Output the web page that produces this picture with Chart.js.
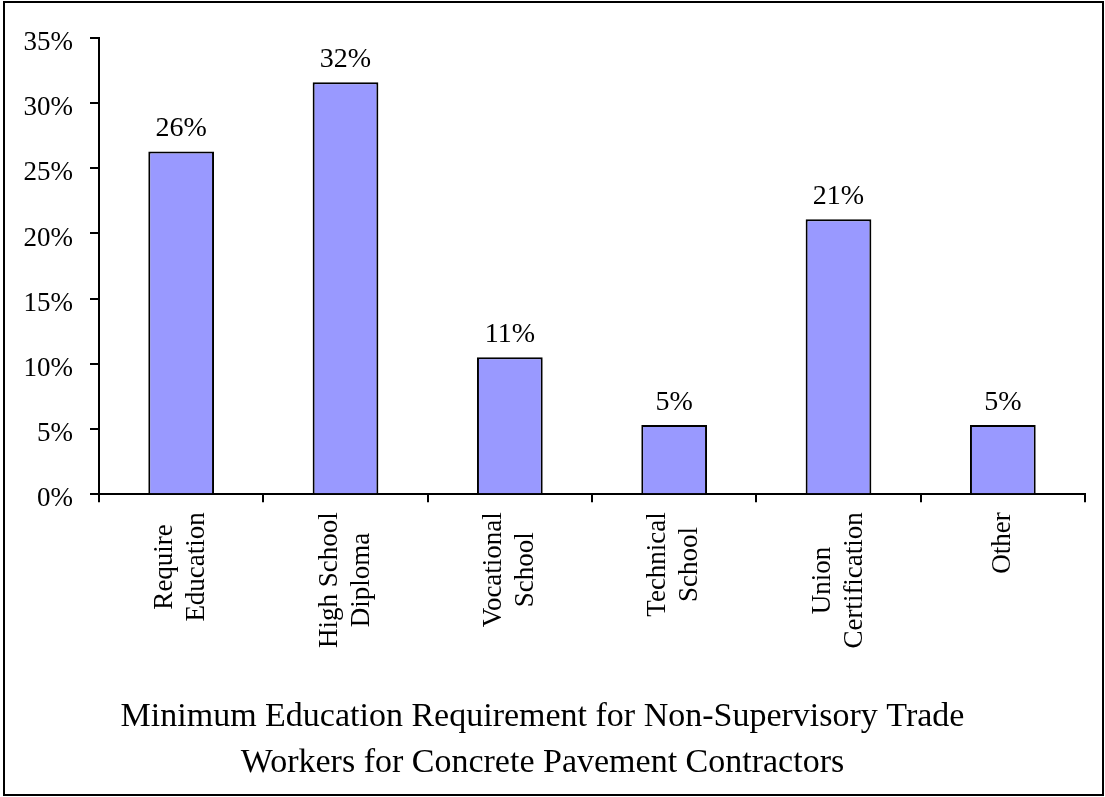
<!DOCTYPE html>
<html>
<head>
<meta charset="utf-8">
<script src="https://cdn.jsdelivr.net/npm/chart.js@4"></script>
<style>
  html, body { margin: 0; padding: 0; background: #ffffff; }
  #wrap { position: relative; width: 1105px; height: 797px; }
</style>
</head>
<body>
<div id="wrap"><canvas id="eduChart" width="1105" height="797"></canvas></div>
<script>
// data
var categories = [
    ['Require', 'Education'],
    ['High School', 'Diploma'],
    ['Vocational', 'School'],
    ['Technical', 'School'],
    ['Union', 'Certification'],
    ['Other']
];
var shares = [26.3, 31.6, 10.5, 5.3, 21.1, 5.3];
var yTicks = [0, 5, 10, 15, 20, 25, 30, 35];
var titleLines = [
    'Minimum Education Requirement for Non-Supervisory Trade',
    'Workers for Concrete Pavement Contractors'
];

var serif = "'Liberation Serif', 'Times New Roman', serif";

// frame around the whole picture
var framePlugin = {
    id: 'frame',
    afterDraw: function (chart) {
        var ctx = chart.ctx;
        ctx.save();
        ctx.strokeStyle = '#000';
        ctx.lineWidth = 2;
        ctx.strokeRect(4, 2, 1099, 793);
        ctx.restore();
    }
};

// value labels above the bars
var valueLabels = {
    id: 'valueLabels',
    afterDatasetsDraw: function (chart) {
        var ctx = chart.ctx;
        var meta = chart.getDatasetMeta(0);
        ctx.save();
        ctx.font = '28px ' + serif;
        ctx.fillStyle = '#000';
        ctx.textAlign = 'center';
        ctx.textBaseline = 'alphabetic';
        meta.data.forEach(function (bar, i) {
            ctx.fillText(Math.round(shares[i]) + '%', bar.x, bar.y - 15);
        });
        ctx.restore();
    }
};

// rotated category labels, lines centred on each other
var xLabels = {
    id: 'xLabels',
    afterDraw: function (chart) {
        var ctx = chart.ctx;
        var xs = chart.scales.x;
        ctx.save();
        ctx.font = '27px ' + serif;
        ctx.fillStyle = '#000';
        ctx.textAlign = 'center';
        ctx.textBaseline = 'middle';
        categories.forEach(function (lines, i) {
            var x = xs.getPixelForTick(i);
            var maxW = 0;
            lines.forEach(function (l) { maxW = Math.max(maxW, ctx.measureText(l).width); });
            var cy = xs.top + 18 + maxW / 2;
            ctx.save();
            ctx.translate(x, cy);
            ctx.rotate(-Math.PI / 2);
            lines.forEach(function (l, j) {
                ctx.fillText(l, 0, (j - (lines.length - 1) / 2) * 32);
            });
            ctx.restore();
        });
        ctx.restore();
    }
};

document.addEventListener('DOMContentLoaded', function () {
    new Chart(document.getElementById('eduChart'), {
        type: 'bar',
        data: {
            labels: categories,
            datasets: [{
                data: shares,
                backgroundColor: '#9999ff',
                borderColor: '#000000',
                borderWidth: 2,
                categoryPercentage: 1.0,
                barPercentage: 0.4
            }]
        },
        options: {
            responsive: false,
            animation: false,
            layout: { padding: { top: 38, right: 20, left: 0, bottom: 0 } },
            plugins: {
                legend: { display: false },
                tooltip: { enabled: false },
                title: {
                    display: true,
                    position: 'bottom',
                    text: titleLines,
                    color: '#000',
                    font: { family: serif, size: 34, weight: 'normal', lineHeight: 1.38 },
                    padding: { top: 0, bottom: 10 }
                }
            },
            scales: {
                x: {
                    grid: {
                        offset: true,
                        drawOnChartArea: false,
                        tickLength: 8,
                        color: '#000',
                        lineWidth: 2
                    },
                    border: { color: '#000', width: 2 },
                    ticks: { color: 'rgba(0,0,0,0)', font: { family: serif, size: 27 }, minRotation: 90, maxRotation: 90 },
                    afterFit: function (scale) { scale.height = 199; }
                },
                y: {
                    min: 0,
                    max: 35,
                    afterBuildTicks: function (scale) {
                        scale.ticks = yTicks.map(function (v) { return { value: v }; });
                    },
                    grid: {
                        drawOnChartArea: false,
                        tickLength: 9,
                        color: '#000',
                        lineWidth: 2
                    },
                    border: { color: '#000', width: 2 },
                    ticks: {
                        color: '#000',
                        padding: 17,
                        labelOffset: 5,
                        font: { family: serif, size: 27 },
                        callback: function (v) { return v + '%'; }
                    },
                    afterFit: function (scale) { scale.width = 99; }
                }
            }
        },
        plugins: [framePlugin, valueLabels, xLabels]
    });
});
</script>
</body>
</html>
